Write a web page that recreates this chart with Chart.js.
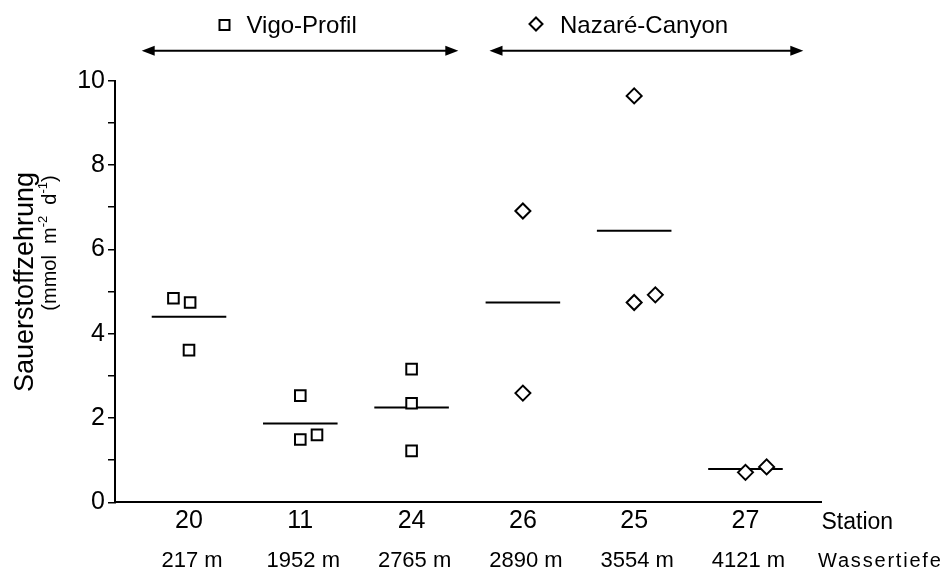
<!DOCTYPE html>
<html lang="de">
<head>
<meta charset="UTF-8">
<title>Sauerstoffzehrung</title>
<script src="https://cdn.jsdelivr.net/npm/chart.js@4"></script>
<style>
  body { margin: 0; background: #fff; }
  #wrap { width: 945px; height: 573px; }
</style>
</head>
<body>
<div id="wrap"><canvas id="o2Chart" width="945" height="573"></canvas></div>
<script>
// stations in plot order (x positions 1..6)
const stations = ['20', '11', '24', '26', '25', '27'];
const depths = ['217 m', '1952 m', '2765 m', '2890 m', '3554 m', '4121 m'];

// Vigo-Profil: stations 20, 11, 24
const vigoValues = [[4.84, 4.74, 3.61], [2.53, 1.49, 1.60], [3.16, 2.35, 1.22]];
const vigoDodge = [[-0.14, 0.01, 0], [0, 0, 0.15], [0, 0, 0]];

// Nazaré-Canyon: stations 26, 25, 27
const nazValues = [[6.91, 2.59], [9.64, 4.74, 4.92], [0.71, 0.84]];
const nazDodge = [[0, 0], [0, 0, 0.19], [0, 0.19]];

// station means (horizontal bars)
const means = [4.40, 1.87, 2.25, 4.74, 6.44, 0.79];

const FONT = '"Liberation Sans", Arial, sans-serif';
Chart.defaults.font.family = FONT;
Chart.defaults.color = '#000';

function toPoints(values, dodge, first) {
    const pts = [];
    values.forEach((vals, i) => {
        vals.forEach((v, j) => pts.push({ x: first + i + dodge[i][j], y: v }));
    });
    return pts;
}

const halfBar = 0.335;
const meanSets = means.map((m, i) => ({
    data: [{ x: i + 1 - halfBar, y: m }, { x: i + 1 + halfBar, y: m }],
    showLine: true,
    borderColor: '#000',
    borderWidth: 2,
    pointRadius: 0,
    order: 2
}));

const markerStyle = {
    showLine: false,
    borderColor: '#000',
    backgroundColor: '#fff',
    borderWidth: 2,
    order: 0
};

const headerPlugin = {
    id: 'header',
    afterDraw(chart) {
        const ctx = chart.ctx;
        const xs = chart.scales.x;
        ctx.save();
        ctx.fillStyle = '#000';
        ctx.strokeStyle = '#000';

        // group arrows
        function arrow(v1, v2, y) {
            const a = xs.getPixelForValue(v1), b = xs.getPixelForValue(v2);
            const head = 13, hw = 5;
            ctx.lineWidth = 2;
            ctx.beginPath();
            ctx.moveTo(a + head - 2, y);
            ctx.lineTo(b - head + 2, y);
            ctx.stroke();
            ctx.beginPath();
            ctx.moveTo(a, y); ctx.lineTo(a + head, y - hw); ctx.lineTo(a + head, y + hw); ctx.closePath();
            ctx.fill();
            ctx.beginPath();
            ctx.moveTo(b, y); ctx.lineTo(b - head, y - hw); ctx.lineTo(b - head, y + hw); ctx.closePath();
            ctx.fill();
        }
        arrow(0.575, 3.42, 50.7);
        arrow(3.70, 6.52, 50.7);

        // group labels with marker
        ctx.lineWidth = 2;
        ctx.strokeRect(219.5, 20, 10, 10);
        ctx.beginPath();
        ctx.moveTo(536, 17.5); ctx.lineTo(542.5, 24); ctx.lineTo(536, 30.5); ctx.lineTo(529.5, 24); ctx.closePath();
        ctx.stroke();
        ctx.font = '24px ' + FONT;
        ctx.textAlign = 'left';
        ctx.textBaseline = 'alphabetic';
        ctx.fillText('Vigo-Profil', 246.5, 32.5);
        ctx.fillText('Nazaré-Canyon', 560, 32.5);

        // row captions
        ctx.font = '23px ' + FONT;
        ctx.fillText('Station', 821.5, 529.3);
        ctx.font = '20px ' + FONT;
        ctx.letterSpacing = '1.8px';
        ctx.fillText('Wassertiefe', 818, 567.3);
        ctx.letterSpacing = '0px';

        // water depth row
        ctx.font = '22px ' + FONT;
        ctx.textAlign = 'center';
        depths.forEach((d, i) => ctx.fillText(d, xs.getPixelForValue(i + 1) + 3, 567.3));

        // y title
        ctx.save();
        ctx.translate(33, 282);
        ctx.rotate(-Math.PI / 2);
        ctx.font = '27px ' + FONT;
        ctx.textAlign = 'center';
        ctx.fillText('Sauerstoffzehrung', 0, 0);
        ctx.restore();

        // unit line with superscripts
        ctx.save();
        ctx.translate(56, 243);
        ctx.rotate(-Math.PI / 2);
        ctx.textAlign = 'left';
        const parts = [
            ['(mmol  m', 20, 0], ['-2', 13, -9], ['  d', 20, 0], ['-1', 13, -9], [')', 20, 0]
        ];
        let total = 0;
        parts.forEach(p => { ctx.font = p[1] + 'px ' + FONT; total += ctx.measureText(p[0]).width; });
        let cx = -total / 2;
        parts.forEach(p => {
            ctx.font = p[1] + 'px ' + FONT;
            ctx.fillText(p[0], cx, p[2]);
            cx += ctx.measureText(p[0]).width;
        });
        ctx.restore();

        ctx.restore();
    }
};

new Chart(document.getElementById('o2Chart'), {
    type: 'scatter',
    data: {
        datasets: [
            Object.assign({ label: 'Vigo-Profil', data: toPoints(vigoValues, vigoDodge, 1),
                pointStyle: 'rect', pointRadius: 7.5, pointHoverRadius: 7.5 }, markerStyle),
            Object.assign({ label: 'Nazaré-Canyon', data: toPoints(nazValues, nazDodge, 4),
                pointStyle: 'rectRot', pointRadius: 7.5, pointHoverRadius: 7.5 }, markerStyle)
        ].concat(meanSets)
    },
    options: {
        responsive: false,
        animation: false,
        layout: { padding: { top: 80.7, right: 123.3, bottom: 0, left: 0 } },
        plugins: { legend: { display: false }, tooltip: { enabled: false } },
        scales: {
            x: {
                type: 'linear',
                min: 0.335,
                max: 6.685,
                afterBuildTicks: s => { s.ticks = stations.map((_, i) => ({ value: i + 1 })); },
                afterFit: s => { s.height = 70.7; },
                grid: { display: false, drawTicks: false },
                border: { display: true, color: '#000', width: 2 },
                ticks: {
                    padding: 4,
                    font: { size: 25 },
                    color: '#000',
                    maxRotation: 0,
                    callback: v => stations[Math.round(v) - 1]
                }
            },
            y: {
                min: 0,
                max: 10,
                afterFit: s => { s.width = 115; },
                grid: { drawOnChartArea: false, drawTicks: true, tickLength: 7, color: '#000', lineWidth: 1.5 },
                border: { display: true, color: '#000', width: 2 },
                ticks: {
                    stepSize: 1,
                    padding: 3,
                    font: { size: 25 },
                    color: '#000',
                    callback: v => (v % 2 === 0 ? String(v) : '')
                }
            }
        }
    },
    plugins: [headerPlugin]
});
</script>
</body>
</html>
